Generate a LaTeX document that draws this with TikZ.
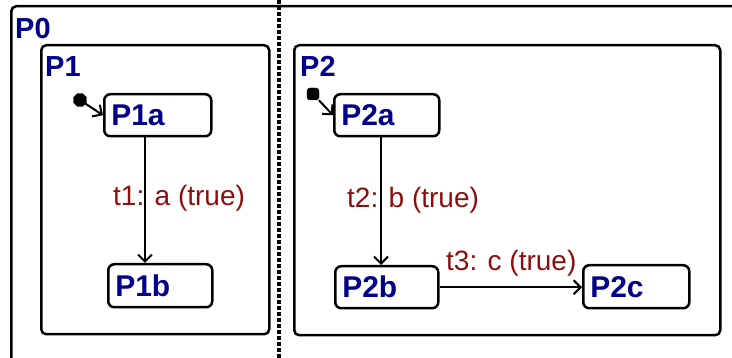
\documentclass[tikz,border=0pt]{standalone}
\usepackage{fontspec}
\setmainfont{Liberation Sans}
\usetikzlibrary{arrows.meta,shapes.geometric}
\definecolor{statenavy}{RGB}{0,0,140}
\definecolor{transred}{RGB}{140,14,14}
\tikzset{
  region/.style={draw, line width=2.5pt, rounded corners=5pt, anchor=north west, inner sep=0pt},
  stbox/.style={draw, line width=2.5pt, rounded corners=6pt, anchor=north west, inner xsep=7pt, inner ysep=0pt,
    align=left, text=statenavy, font=\fontsize{30}{34}\selectfont\bfseries},
  rlabel/.style={anchor=base west, inner sep=0pt, text=statenavy, font=\fontsize{29}{34}\selectfont\bfseries},
  tlabel/.style={anchor=base west, inner sep=0pt, text=transred, font=\fontsize{28}{32}\selectfont},
  trans/.style={line width=2pt, -{Straight Barb[length=7pt,width=14pt,line width=2pt]}},
  initdot/.style={fill=black, draw=black, inner sep=0pt}
}
\begin{document}
\begin{tikzpicture}[x=1pt,y=-1pt]
\useasboundingbox (0,0) rectangle (732,358);
\clip (0,0) rectangle (732,358);
% outer parallel state P0
\node[region, minimum width=800pt, minimum height=420pt] (P0box) at (10,5) {};
\node[rlabel] (P0lbl) at (15,39) {P0};
% parallel divider
\coordinate (divtop) at (279,0);
\coordinate (divbot) at (279,358);
\draw[line width=3.5pt, dash pattern=on 4pt off 2pt] (divtop) -- (divbot);
% region P1
\node[region, minimum width=228pt, minimum height=289pt] (P1box) at (40,44) {};
\node[rlabel] (P1lbl) at (45,77) {P1};
% region P2
\node[region, minimum width=426pt, minimum height=290pt] (P2box) at (293,44) {};
\node[rlabel] (P2lbl) at (300,77) {P2};
% states
\node[stbox, text width=93pt, minimum height=42pt] (P1a) at (103,93) {P1a};
\node[stbox, text width=90pt, minimum height=43pt] (P1b) at (107,263) {P1b};
\node[stbox, text width=91pt, minimum height=42pt] (P2a) at (333,93) {P2a};
\node[stbox, text width=89pt, minimum height=42pt] (P2b) at (334,265) {P2b};
\node[stbox, text width=92pt, minimum height=43pt] (P2c) at (582,264) {P2c};
% default transitions
\node[initdot, regular polygon, regular polygon sides=8, minimum size=14pt] (init1) at (80,100) {};
\node[initdot, rectangle, rounded corners=3pt, minimum size=12pt] (init2) at (313,94) {};
\draw[trans] (init1) -- (P1a.west);
\draw[trans] (init2) -- (P2a.west);
% transitions
\coordinate (t1x) at (145,0);
\coordinate (t2x) at (381,0);
\draw[trans] (t1x |- P1a.south) -- (t1x |- P1b.north);
\draw[trans] (t2x |- P2a.south) -- (t2x |- P2b.north);
\draw[trans] (P2b.east) -- (P2b.east -| P2c.west);
\node[tlabel] (t1lbl) at (113,206) {t1: a (true)};
\node[tlabel] (t2lbl) at (347,208) {t2: b (true)};
\node[tlabel] (t3lbl) at (446,271) {t3: c (true)};
\end{tikzpicture}
\end{document}
